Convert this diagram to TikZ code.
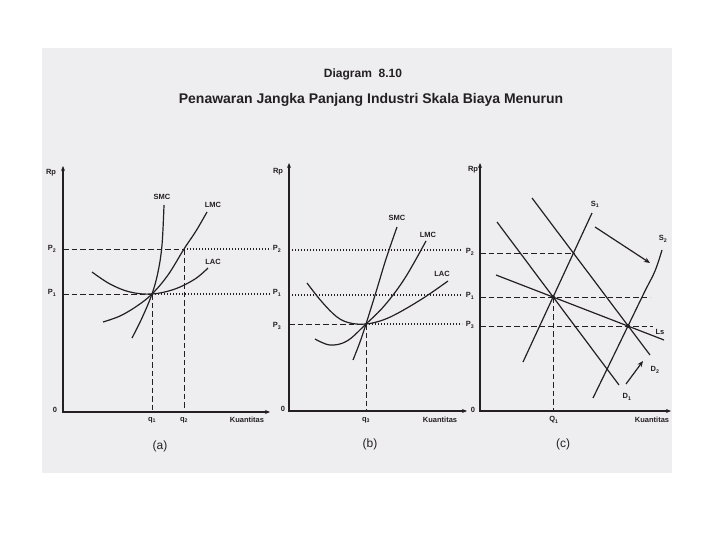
\documentclass[tikz,border=0pt]{standalone}
\usepackage{fontspec}
\setmainfont{Liberation Sans}
\usetikzlibrary{arrows.meta}
\definecolor{page}{RGB}{238,237,239}
\definecolor{ink}{RGB}{36,32,34}
\begin{document}
\begin{tikzpicture}[x=1pt,y=-1pt,
  axis/.style={ink, line width=1.7pt, {Stealth[length=5pt,width=4pt]}-{Stealth[length=5pt,width=4pt]}},
  curve/.style={ink, line width=1.2pt},
  dashline/.style={ink, line width=0.9pt, dash pattern=on 5.5pt off 3pt},
  dotline/.style={ink, line width=1.3pt, dash pattern=on 1.2pt off 1.8pt},
  lbl/.style={font=\fontsize{7.5}{8}\selectfont\bfseries, text=ink, inner sep=0pt},
  panelcap/.style={font=\fontsize{12}{13}\selectfont, text=ink, inner sep=0pt},
  shift arrow/.style={ink, line width=1.2pt, -{Stealth[length=6pt,width=5pt]}},
  eqdot/.style={circle, fill=ink, inner sep=0pt, minimum size=4pt}
]
\useasboundingbox (0,0) rectangle (720,540);
\fill[white] (0,0) rectangle (720,540);
\fill[page] (42,48) rectangle (672,473);

% titles
\node[text=ink, font=\fontsize{12}{14}\selectfont\bfseries] (title) at (363,74) {Diagram\ \ 8.10};
\node[text=ink, font=\fontsize{14}{16}\selectfont\bfseries] (subtitle) at (371,100) {Penawaran Jangka Panjang Industri Skala Biaya Menurun};

%%%%%%%%%%%%%%%% Panel (a)
\coordinate (aO) at (63,412);
\coordinate (aY) at (63,166);
\coordinate (aX) at (270,412);
\coordinate (aE) at (152,294);
\coordinate (aF) at (184,249);
\coordinate (aP2) at (63,249);
\coordinate (aP1) at (63,294);
\coordinate (aq1) at (152,412);
\coordinate (aq2) at (184,412);
\coordinate (aP2end) at (271,249);
\coordinate (aP1end) at (271,294);

\draw[dashline] (aP2) -- (aF);
\draw[dotline] (aF) -- (aP2end);
\draw[dashline] (aP1) -- (aE);
\draw[dotline] (aE) -- (aP1end);
\draw[dashline] (aE) -- (aq1);
\draw[dashline] (aF) -- (aq2);

\draw[curve] plot[smooth, tension=0.6] coordinates {(132,338) (142,318) (152,294) (158,272) (162,245) (164,205)};
\draw[curve] plot[smooth, tension=0.6] coordinates {(103,322) (120,316) (137,306) (152,294) (168,275) (184,249) (196,231) (207,212)};
\draw[curve] plot[smooth, tension=0.6] coordinates {(92,272) (110,284) (130,292) (152,294) (175,289) (195,279) (208,268)};

\draw[axis] (aY) -- (aO) -- (aX);

\node[lbl] (aRp) at (51,173) {Rp};
\node[lbl] (aP2l) at (52,249) {P\textsubscript{2}};
\node[lbl] (aP1l) at (52,293) {P\textsubscript{1}};
\node[lbl] (a0) at (55,410) {0};
\node[lbl] (aq1l) at (152,420) {q\textsubscript{1}};
\node[lbl] (aq2l) at (184,420) {q\textsubscript{2}};
\node[lbl] (aK) at (247,420) {Kuantitas};
\node[lbl] (aSMC) at (162,197) {SMC};
\node[lbl] (aLMC) at (213,205) {LMC};
\node[lbl] (aLAC) at (213,262) {LAC};
\node[panelcap] (acap) at (160,446) {(a)};

%%%%%%%%%%%%%%%% Panel (b)
\coordinate (bO) at (289,411);
\coordinate (bY) at (289,163);
\coordinate (bX) at (467,411);
\coordinate (bE) at (366,324);
\coordinate (bP2) at (289,250);
\coordinate (bP1) at (289,295);
\coordinate (bP3) at (289,324);
\coordinate (bq3) at (366,411);
\coordinate (bP2end) at (462,250);
\coordinate (bP1end) at (462,295);
\coordinate (bP3end) at (462,324);

\draw[dotline] (bP2) -- (bP2end);
\draw[dotline] (bP1) -- (bP1end);
\draw[dashline] (bP3) -- (bE);
\draw[dotline] (bE) -- (bP3end);
\draw[dashline] (bE) -- (bq3);

\draw[curve] plot[smooth, tension=0.6] coordinates {(353,360) (360,342) (366,324) (376,292) (386,259) (397,227)};
\draw[curve] plot[smooth, tension=0.6] coordinates {(315,339) (330,345) (347,341) (366,324) (385,305) (405,278) (426,241)};
\draw[curve] plot[smooth, tension=0.6] coordinates {(307,283) (322,302) (337,317) (350,323) (366,324) (383,320) (400,312) (425,297) (448,281)};

\draw[axis] (bY) -- (bO) -- (bX);

\node[lbl] (bRp) at (278,172) {Rp};
\node[lbl] (bP2l) at (277,249) {P\textsubscript{2}};
\node[lbl] (bP1l) at (277,293) {P\textsubscript{1}};
\node[lbl] (bP3l) at (277,326) {P\textsubscript{3}};
\node[lbl] (b0) at (283,409) {0};
\node[lbl] (bq3l) at (366,420) {q\textsubscript{3}};
\node[lbl] (bK) at (440,420) {Kuantitas};
\node[lbl] (bSMC) at (397,218) {SMC};
\node[lbl] (bLMC) at (428,235) {LMC};
\node[lbl] (bLAC) at (442,274) {LAC};
\node[panelcap] (bcap) at (370,444) {(b)};

%%%%%%%%%%%%%%%% Panel (c)
\coordinate (cO) at (480,411);
\coordinate (cY) at (480,163);
\coordinate (cX) at (671,411);
\coordinate (cE1) at (553,297);
\coordinate (cE2) at (628,326);
\coordinate (cP2) at (480,253);
\coordinate (cP2end) at (575,253);
\coordinate (cP1) at (480,297);
\coordinate (cP1end) at (650,297);
\coordinate (cP3) at (480,326);
\coordinate (cP3end) at (653,326);
\coordinate (cQ1) at (553,411);

\draw[dashline] (cP2) -- (cP2end);
\draw[dashline] (cP1) -- (cP1end);
\draw[dashline] (cP3) -- (cP3end);
\draw[dashline] (cE1) -- (cQ1);

\coordinate (s1a) at (523,362); \coordinate (s1b) at (592,213);
\coordinate (d1a) at (497,222); \coordinate (d1b) at (619,385);
\coordinate (d2a) at (532,198); \coordinate (d2b) at (650,355);
\coordinate (lsa) at (496,275); \coordinate (lsb) at (664,340);
\draw[curve] (s1a) -- (s1b);
\draw[curve] (d1a) -- (d1b);
\draw[curve] (d2a) -- (d2b);
\draw[curve] (lsa) -- (lsb);
\draw[curve] plot[smooth, tension=0.6] coordinates {(593,398) (611,361) (628,326) (645,291) (655,271) (662,250)};

\node[eqdot] (dot1) at (cE1) {};
\node[eqdot] (dot2) at (cE2) {};

\coordinate (ar1a) at (595,227); \coordinate (ar1b) at (650,263);
\coordinate (ar2a) at (626,384); \coordinate (ar2b) at (643,361);
\draw[shift arrow] (ar1a) -- (ar1b);
\draw[shift arrow] (ar2a) -- (ar2b);

\draw[axis] (cY) -- (cO) -- (cX);

\node[lbl] (cRp) at (473,170) {Rp};
\node[lbl] (cP2l) at (470,252) {P\textsubscript{2}};
\node[lbl] (cP1l) at (470,296) {P\textsubscript{1}};
\node[lbl] (cP3l) at (470,325) {P\textsubscript{3}};
\node[lbl] (c0) at (473,410) {0};
\node[lbl] (cQ1l) at (554,420) {Q\textsubscript{1}};
\node[lbl] (cK) at (652,420) {Kuantitas};
\node[lbl] (cS1) at (595,204) {S\textsubscript{1}};
\node[lbl] (cS2) at (663,239) {S\textsubscript{2}};
\node[lbl] (cLs) at (660,332) {Ls};
\node[lbl] (cD2) at (655,370) {D\textsubscript{2}};
\node[lbl] (cD1) at (627,397) {D\textsubscript{1}};
\node[panelcap] (ccap) at (563,444) {(c)};
\end{tikzpicture}
\end{document}
